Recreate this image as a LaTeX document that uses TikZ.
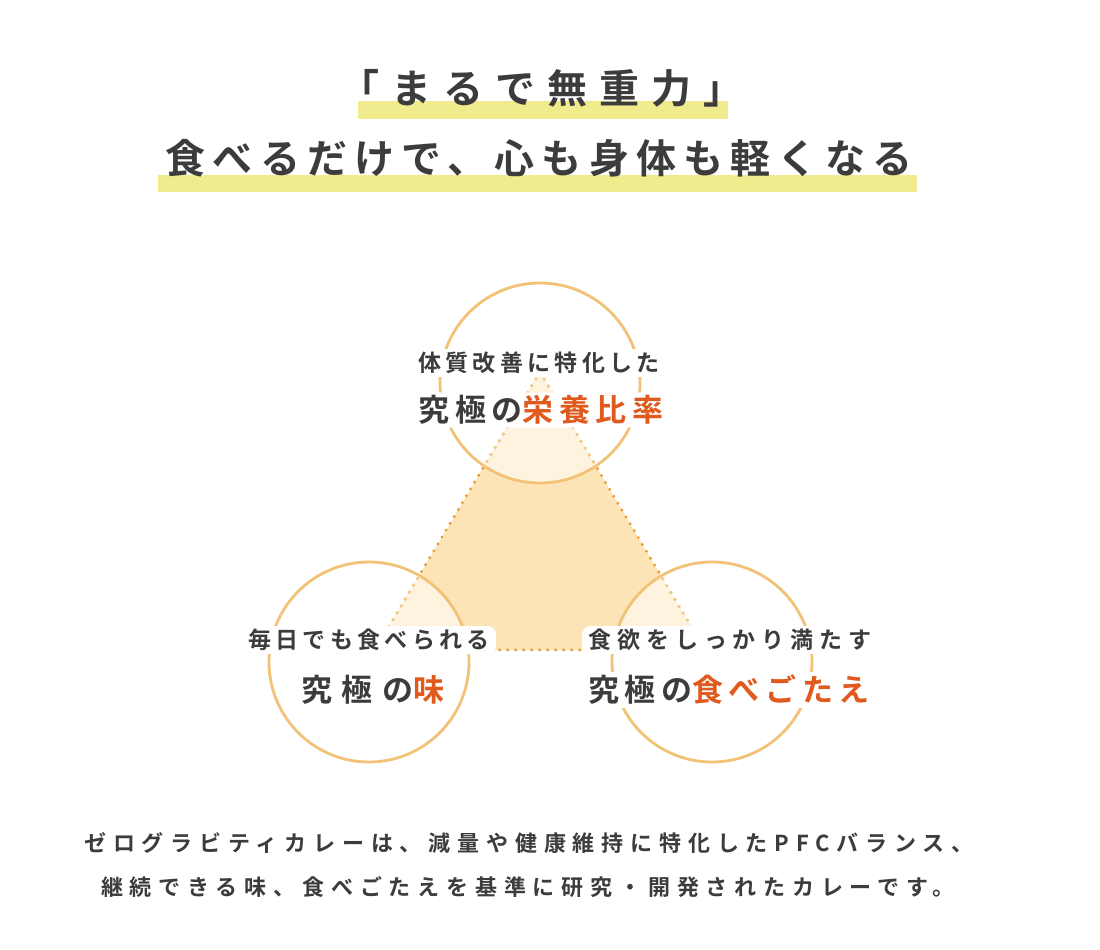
\documentclass[tikz,border=0pt]{standalone}
\usepackage{fontspec}
\usepackage{xcolor}
\newfontfamily\headfont{Noto Sans CJK JP Bold}[LetterSpace=18]
\newfontfamily\headwidefont{Noto Sans CJK JP Bold}[LetterSpace=30]
\newfontfamily\leadfont{Noto Sans CJK JP Bold}[LetterSpace=19]
\newfontfamily\leadwidefont{Noto Sans CJK JP Bold}[LetterSpace=26]
\newfontfamily\keyfont{Noto Sans CJK JP Bold}[LetterSpace=18]
\newfontfamily\keywidefont{Noto Sans CJK JP Bold}[LetterSpace=30]
\newfontfamily\bodyfont{Noto Sans CJK JP Bold}[LetterSpace=31]
\definecolor{inkgray}{HTML}{3C3C3C}
\definecolor{accentred}{HTML}{E05A1E}
\definecolor{markyellow}{HTML}{F0EB8C}
\definecolor{ringorange}{HTML}{F2C277}
\definecolor{triwarm}{HTML}{FCE4B6}
\definecolor{trilight}{HTML}{FEF3DF}
\definecolor{dotdark}{HTML}{E59C30}
\definecolor{dotlight}{HTML}{F4CC8C}
\usetikzlibrary{positioning}

\begin{document}
\begin{tikzpicture}[x=1pt, y=-1pt,
    ring/.style={draw=ringorange, line width=2.8pt},
    dotline/.style={line width=3.2pt, line cap=round, dash pattern=on 0pt off 8pt, draw=#1},
    halo/.style={fill=white, rounded corners=8pt, inner xsep=6pt, inner ysep=3pt, text=inkgray},
    headline/.style={text=inkgray, inner sep=0pt, font=\headfont\fontsize{40}{44}\selectfont},
    leadline/.style={halo, font=\leadfont\fontsize{23}{26}\selectfont},
    keyline/.style={halo, font=\keyfont\fontsize{31}{34}\selectfont},
    bodyline/.style={text=inkgray, inner sep=0pt, font=\bodyfont\fontsize{22}{26}\selectfont},
  ]
  \useasboundingbox[fill=white] (0,0) rectangle (1100,950);

  %% --- headline with marker bars ---
  \fill[markyellow] (358,101) rectangle (728,119);
  \fill[markyellow] (158,175) rectangle (917,192);
  \node[headline, font=\headwidefont\fontsize{40}{44}\selectfont]
                  (head1) at (541,88)  {「まるで無重力」};
  \node[headline] (head2) at (539,158) {食べるだけで、心も身体も軽くなる};

  %% --- three circles and the triangle ---
  \coordinate (ctop)   at (540,383);
  \coordinate (cleft)  at (369,662);
  \coordinate (cright) at (712,662);
  \coordinate (apex)   at (540,372);
  \coordinate (baseL)  at (375,650);
  \coordinate (baseR)  at (705,650);

  \fill[triwarm] (apex) -- (baseL) -- (baseR) -- cycle;
  \foreach \c in {ctop,cleft,cright} {
    \begin{scope}
      \clip (apex) -- (baseL) -- (baseR) -- cycle;
      \fill[trilight] (\c) circle[radius=100];
    \end{scope}
  }
  \draw[dotline=dotdark] (apex) -- (baseL) -- (baseR) -- cycle;
  \foreach \c in {ctop,cleft,cright} {
    \begin{scope}
      \clip (\c) circle[radius=99];
      \draw[dotline=dotlight] (apex) -- (baseL) -- (baseR) -- cycle;
    \end{scope}
  }
  \foreach \c in {ctop,cleft,cright}
    \draw[ring] (\c) circle[radius=100];

  %% --- circle labels ---
  \node[leadline] (toplead)   at (539,363) {体質改善に特化した};
  \node[keyline]  (topkey)    at (541,410) {究極の\textcolor{accentred}{栄養比率}};
  \node[leadline] (leftlead)  at (369,640) {毎日でも食べられる};
  \node[keyline, font=\keywidefont\fontsize{31}{34}\selectfont]
                  (leftkey)   at (373,690) {究極の\textcolor{accentred}{味}};
  \node[leadline, font=\leadwidefont\fontsize{23}{26}\selectfont]
                  (rightlead) at (730,640) {食欲をしっかり満たす};
  \node[keyline]  (rightkey)  at (729,690) {究極の\textcolor{accentred}{食べごたえ}};

  %% --- description ---
  \node[bodyline] (body1) at (529,843) {ゼログラビティカレーは、減量や健康維持に特化したPFCバランス、};
  \node[bodyline] (body2) at (528,887) {継続できる味、食べごたえを基準に研究・開発されたカレーです。};
\end{tikzpicture}
\end{document}
